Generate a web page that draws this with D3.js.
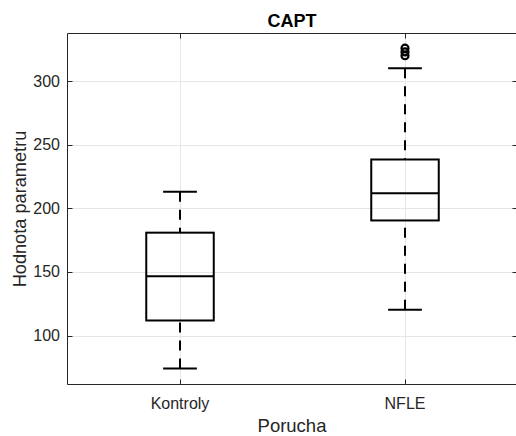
<!DOCTYPE html>
<html>
<head>
<meta charset="utf-8">
<script src="https://cdn.jsdelivr.net/npm/d3@7"></script>
<style>
  html, body { margin: 0; padding: 0; background: #ffffff; overflow: hidden; }
  text { font-family: "Liberation Sans", Arial, Helvetica, sans-serif; }
</style>
</head>
<body>
<svg id="chart" width="516" height="436"></svg>
<script>
// ---- data ----
const categories = ["Kontroly", "NFLE"];
const upperWhisker = [213, 310];
const q3 = [180.8, 238.3];
const median = [146.6, 211.7];
const q1 = [111.8, 190.4];
const lowerWhisker = [74, 120.2];
const outliers = [[], [325.8, 322.8, 319.8]];
const yTicks = [100, 150, 200, 250, 300];
const titleText = "CAPT";
const xLabelText = "Porucha";
const yLabelText = "Hodnota parametru";

// ---- layout ----
const svg = d3.select("#chart");
const mLeft = 67.5, mRight = 517.5, mTop = 33.5, mBottom = 384.5;
const axisColor = "#262626";

const x = d3.scalePoint().domain(categories).range([mLeft, mRight]).padding(0.5);
const y = d3.scaleLinear().domain([61.5, 337.3]).range([mBottom, mTop]);
const step = x.step();
const boxW = step * 0.3;
const capW = step * 0.15;

// grid
const grid = svg.append("g");
grid.selectAll("line.gy").data(yTicks).enter().append("line")
  .attr("x1", mLeft).attr("x2", mRight)
  .attr("y1", d => Math.round(y(d)) + 0.5).attr("y2", d => Math.round(y(d)) + 0.5)
  .attr("stroke", "#e6e6e6").attr("stroke-width", 1);
grid.selectAll("line.gx").data(categories).enter().append("line")
  .attr("x1", d => Math.round(x(d)) + 0.5).attr("x2", d => Math.round(x(d)) + 0.5)
  .attr("y1", mTop).attr("y2", mBottom)
  .attr("stroke", "#e6e6e6").attr("stroke-width", 1);

// ticks (inward, both sides)
const tl = 5;
const ticks = svg.append("g").attr("stroke", axisColor).attr("stroke-width", 1);
yTicks.forEach(t => {
  const yy = Math.round(y(t)) + 0.5;
  ticks.append("line").attr("x1", mLeft).attr("x2", mLeft + tl).attr("y1", yy).attr("y2", yy);
  ticks.append("line").attr("x1", mRight).attr("x2", mRight - tl).attr("y1", yy).attr("y2", yy);
});
categories.forEach(c => {
  const xx = Math.round(x(c)) + 0.5;
  ticks.append("line").attr("x1", xx).attr("x2", xx).attr("y1", mBottom).attr("y2", mBottom - tl);
  ticks.append("line").attr("x1", xx).attr("x2", xx).attr("y1", mTop).attr("y2", mTop + tl);
});

// boxes
const boxes = svg.append("g").attr("fill", "none").attr("stroke", "#000").attr("stroke-width", 2);
categories.forEach((c, i) => {
  const cx = x(c);
  boxes.append("line").attr("x1", cx).attr("x2", cx)
    .attr("y1", y(upperWhisker[i])).attr("y2", y(q3[i]))
    .attr("stroke-dasharray", "10,8");
  boxes.append("line").attr("x1", cx).attr("x2", cx)
    .attr("y1", y(lowerWhisker[i])).attr("y2", y(q1[i]))
    .attr("stroke-dasharray", "10,8");
  boxes.append("line").attr("x1", cx - capW / 2).attr("x2", cx + capW / 2)
    .attr("y1", y(upperWhisker[i])).attr("y2", y(upperWhisker[i]));
  boxes.append("line").attr("x1", cx - capW / 2).attr("x2", cx + capW / 2)
    .attr("y1", y(lowerWhisker[i])).attr("y2", y(lowerWhisker[i]));
  boxes.append("rect").attr("x", cx - boxW / 2).attr("width", boxW)
    .attr("y", y(q3[i])).attr("height", y(q1[i]) - y(q3[i]));
  boxes.append("line").attr("x1", cx - boxW / 2).attr("x2", cx + boxW / 2)
    .attr("y1", y(median[i])).attr("y2", y(median[i]));
  outliers[i].forEach(v => {
    boxes.append("circle").attr("cx", cx).attr("cy", y(v)).attr("r", 3.5)
      .attr("stroke-width", 2.2);
  });
});

// axis box
const frame = svg.append("g").attr("stroke", axisColor).attr("stroke-width", 1).attr("fill", "none");
frame.append("line").attr("x1", mLeft).attr("x2", mRight).attr("y1", mTop).attr("y2", mTop);
frame.append("line").attr("x1", mLeft).attr("x2", mRight).attr("y1", mBottom).attr("y2", mBottom);
frame.append("line").attr("x1", mLeft).attr("x2", mLeft).attr("y1", mTop).attr("y2", mBottom);
frame.append("line").attr("x1", mRight).attr("x2", mRight).attr("y1", mTop).attr("y2", mBottom);

// tick labels
svg.append("g").selectAll("text").data(yTicks).enter().append("text")
  .attr("x", 60).attr("y", d => y(d)).attr("dy", "0.35em")
  .attr("text-anchor", "end").attr("font-size", 16).attr("fill", axisColor)
  .text(d => d);
svg.append("g").selectAll("text").data(categories).enter().append("text")
  .attr("x", d => x(d)).attr("y", 408.5)
  .attr("text-anchor", "middle").attr("font-size", 16).attr("fill", axisColor)
  .text(d => d);

// labels
svg.append("text").attr("x", 292).attr("y", 27)
  .attr("text-anchor", "middle").attr("font-size", 18).attr("font-weight", "bold")
  .attr("fill", "#000").text(titleText);
svg.append("text").attr("x", 292).attr("y", 432)
  .attr("text-anchor", "middle").attr("font-size", 18.5).attr("fill", axisColor)
  .text(xLabelText);
svg.append("text").attr("transform", `translate(26,${(mTop + mBottom) / 2}) rotate(-90)`)
  .attr("text-anchor", "middle").attr("font-size", 18.2).attr("fill", axisColor)
  .text(yLabelText);
</script>
</body>
</html>
